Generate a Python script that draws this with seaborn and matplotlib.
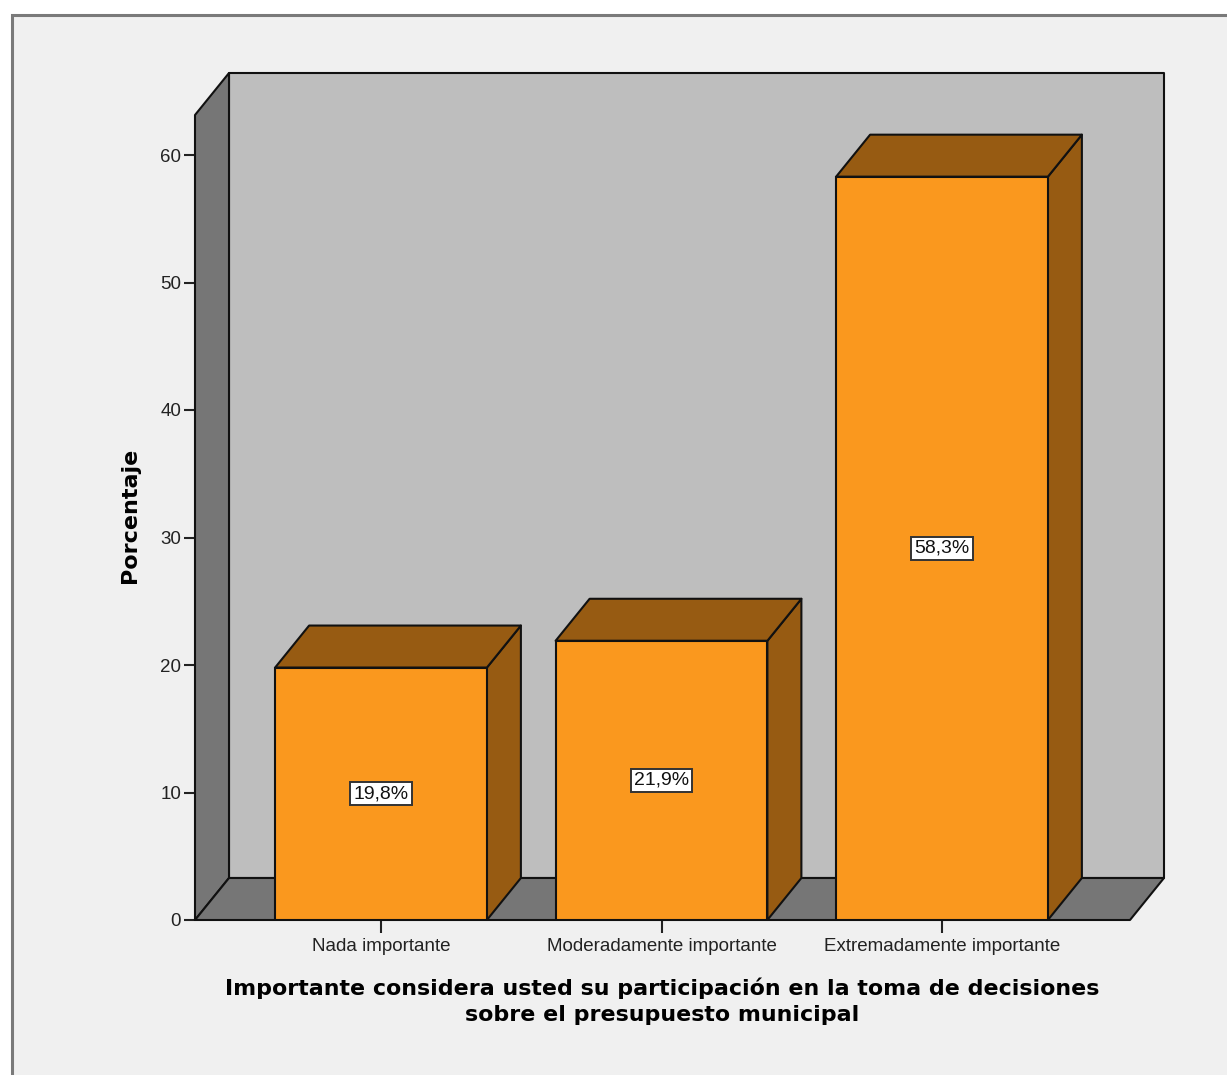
import matplotlib
matplotlib.use('Agg')
import matplotlib.pyplot as plt
import pandas as pd
import seaborn as sns
from matplotlib.patches import Polygon, Rectangle

categories = ['Nada importante', 'Moderadamente importante', 'Extremadamente importante']
porcentaje = [19.8, 21.9, 58.3]
bar_labels = ['19,8%', '21,9%', '58,3%']
y_ticks = [0, 10, 20, 30, 40, 50, 60]

sns.set_theme(style='white')
plt.rcParams['font.family'] = ['Liberation Sans', 'DejaVu Sans']

W, H = 1227, 1075
BG = '#f0f0f0'
LINE = '#111111'

fig = plt.figure(figsize=(W / 100, H / 100), dpi=100, facecolor='white')
fig.add_artist(Rectangle((12 / W, -0.1), 1.1, 1 - 15 / H + 0.1, transform=fig.transFigure,
                         facecolor=BG, edgecolor='#7a7a7a', linewidth=2.2, zorder=-1))

ax = fig.add_axes([195 / W, 1 - 920 / H, 935 / W, 805 / H])
ax.patch.set_visible(False)

BAR_W = 0.755
df = pd.DataFrame({'cat': categories, 'pct': porcentaje})
sns.barplot(data=df, x='cat', y='pct', color='#fa981e', saturation=1, width=BAR_W,
            edgecolor=LINE, linewidth=1.5, ax=ax, zorder=5)

x_unit = 280.5   # px per category
y_unit = 12.75   # px per percent
ax.set_xlim(-186 / x_unit, 2 + 188 / x_unit)
ax.set_ylim(0, 805 / y_unit)
x0, x1 = ax.get_xlim()
ytop = ax.get_ylim()[1]
dx = 34 / x_unit   # depth of the 3d box
dy = 42 / y_unit


def face(pts, color, z):
    ax.add_patch(Polygon(pts, closed=True, facecolor=color, edgecolor=LINE, linewidth=1.5,
                         joinstyle='round', clip_on=False, zorder=z))


# back wall, left wall, floor
face([(x0 + dx, dy), (x1 + dx, dy), (x1 + dx, ytop + dy), (x0 + dx, ytop + dy)], '#bebebe', 1)
face([(x0, 0), (x0 + dx, dy), (x0 + dx, ytop + dy), (x0, ytop)], '#767676', 2)
face([(x0, 0), (x1, 0), (x1 + dx, dy), (x0 + dx, dy)], '#767676', 2)

# sides and tops of the bars
half = BAR_W / 2
for i, v in enumerate(porcentaje):
    face([(i + half, 0), (i + half + dx, dy), (i + half + dx, v + dy), (i + half, v)], '#975b12', 3)
    face([(i - half, v), (i + half, v), (i + half + dx, v + dy), (i - half + dx, v + dy)], '#975b12', 3)
    ax.text(i, v / 2, bar_labels[i], ha='center', va='center', fontsize=14, color='#111111', zorder=7,
            bbox=dict(boxstyle='square,pad=0.16', facecolor='white', edgecolor='#333333', linewidth=1.4))

for s in ax.spines.values():
    s.set_visible(False)

ax.set_yticks(y_ticks)
ax.set_xticks(range(len(categories)))
ax.set_xticklabels(categories)
ax.tick_params(axis='y', length=8, width=1.5, color='#222222', labelsize=13.5, pad=2, left=True, labelcolor='#222222')
ax.tick_params(axis='x', length=9.5, width=1.5, color='#222222', labelsize=13.5, pad=3.5, bottom=True, labelcolor='#222222')

ax.set_xlabel('')
ax.set_ylabel('')
fig.text(130 / W, 1 - 515 / H, 'Porcentaje', rotation=90, ha='center', va='center',
         fontsize=16, fontweight='bold', color='black', family='DejaVu Sans')
fig.text(662 / W, 1 - 1001 / H,
         'Importante considera usted su participación en la toma de decisiones\nsobre el presupuesto municipal',
         ha='center', va='center', fontsize=15.9, fontweight='bold', color='black',
         family='DejaVu Sans', linespacing=1.4)

fig.savefig('out.png', dpi=100, facecolor='white')
